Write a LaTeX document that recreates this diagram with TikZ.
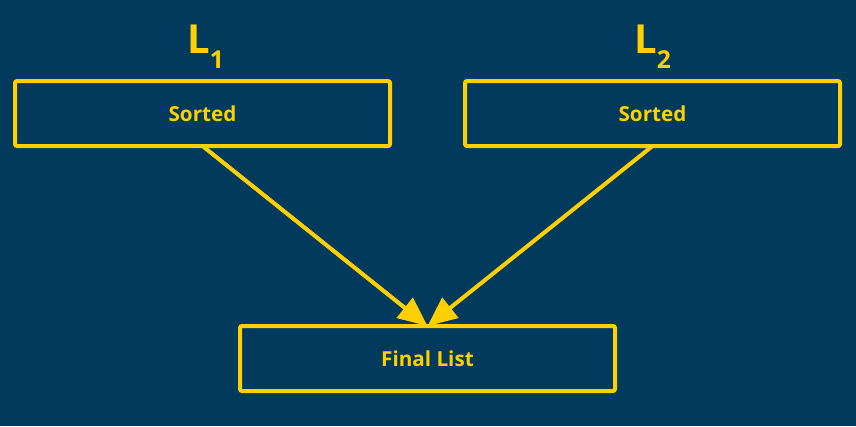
\documentclass[tikz,border=0pt]{standalone}
\usepackage{fontspec}
\setmainfont{Open Sans}
\usepackage{tikz}
\usetikzlibrary{arrows.meta}
\definecolor{NavyBg}{RGB}{1,58,92}
\definecolor{Gold}{RGB}{255,207,0}

\begin{document}
\begin{tikzpicture}[x=0.75pt,y=-0.75pt,
    listbox/.style={draw=Gold,line width=3pt,rounded corners=1.5pt,
      minimum width=281.25pt,minimum height=48.75pt,outer sep=0pt,
      text=Gold,font=\bfseries\fontsize{15.5}{18}\selectfont},
    listname/.style={anchor=base west,inner sep=0pt,text=Gold,
      font=\bfseries\fontsize{30}{36}\selectfont},
    mergearrow/.style={draw=Gold,line width=3pt,
      -{Triangle[length=22pt,width=19pt]}}]
  \fill[NavyBg] (0,0) rectangle (856,426);
  \useasboundingbox (0,0) rectangle (856,426);
  % the two sorted halves
  \node[listbox] (left) at (202.5,113.5) {Sorted};
  \node[listbox] (right) at (652.5,113.5) {Sorted};
  \node[listname] (lname) at (187,53) {L\raisebox{-11.6pt}{\fontsize{18.5}{22}\selectfont 1}};
  \node[listname] (rname) at (634,53) {L\raisebox{-11.6pt}{\fontsize{18.5}{22}\selectfont 2}};
  % merged result
  \node[listbox] (final) at (427.5,358.5) {Final List};
  \draw[mergearrow] (left.south) -- (final.north);
  \draw[mergearrow] (right.south) -- (final.north);
\end{tikzpicture}
\end{document}
